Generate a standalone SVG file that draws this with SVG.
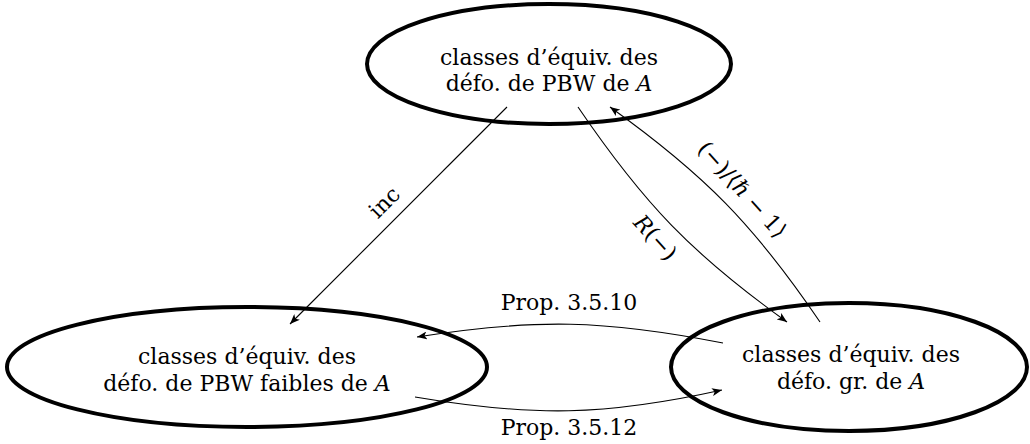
<svg xmlns="http://www.w3.org/2000/svg" width="1030" height="444" viewBox="0 0 1030 444">
  <style>
    .node { fill: #fff; stroke: #000; stroke-width: 4; }
    .lbl { font-family: "DejaVu Serif", "Liberation Serif", serif; font-size: 22px; fill: #000; text-anchor: middle; }
    .it { font-style: italic; }
    .edge { fill: none; stroke: #000; stroke-width: 1.1; }
  </style>
  <defs>
    <marker id="arrow" viewBox="0 0 10 8" refX="10" refY="4" markerWidth="10" markerHeight="8" markerUnits="userSpaceOnUse" orient="auto">
      <path d="M0,0 L10,4 L0,8 L2.5,4 z" fill="#000"/>
    </marker>
  </defs>

  <!-- PBW deformations -->
  <g id="pbw">
    <ellipse class="node" cx="549" cy="64" rx="182" ry="60"/>
    <text class="lbl" x="549" y="65">classes d’équiv. des</text>
    <text class="lbl" x="549" y="91">défo. de PBW de <tspan class="it">A</tspan></text>
  </g>

  <!-- weak PBW deformations -->
  <g id="pbw-faibles">
    <ellipse class="node" cx="247" cy="367" rx="240" ry="60"/>
    <text class="lbl" x="247" y="364">classes d’équiv. des</text>
    <text class="lbl" x="247" y="391">défo. de PBW faibles de <tspan class="it">A</tspan></text>
  </g>

  <!-- graded deformations -->
  <g id="gr">
    <ellipse class="node" cx="849" cy="367" rx="178" ry="64"/>
    <text class="lbl" x="851" y="362">classes d’équiv. des</text>
    <text class="lbl" x="851" y="389">défo. gr. de <tspan class="it">A</tspan></text>
  </g>

  <g id="connectors">
    <!-- inc -->
    <path class="edge" d="M507,107 L290,324" marker-end="url(#arrow)"/>
    <text class="lbl" transform="translate(386,204) rotate(-45)" y="5">inc</text>

    <!-- R(-) -->
    <path class="edge" d="M578,107 C644,204 692,254 787,322" marker-end="url(#arrow)"/>
    <text class="lbl" transform="translate(655,238) rotate(48)" y="7"><tspan class="it">R</tspan>(−)</text>

    <!-- quotient by (h-1) -->
    <path class="edge" d="M820,322 C754,225 705,175 610,107" marker-end="url(#arrow)"/>
    <text class="lbl" transform="translate(742,190) rotate(48)" y="7">(−)/⟨<tspan class="it">ℏ</tspan> − 1⟩</text>

    <!-- Prop. 3.5.10 -->
    <path class="edge" d="M723,343 C605,320 536,318 417,337" marker-end="url(#arrow)"/>
    <text class="lbl" x="569" y="310">Prop. 3.5.10</text>

    <!-- Prop. 3.5.12 -->
    <path class="edge" d="M415,397 C533,417 605,416 722,390" marker-end="url(#arrow)"/>
    <text class="lbl" x="569" y="435">Prop. 3.5.12</text>
  </g>
</svg>
